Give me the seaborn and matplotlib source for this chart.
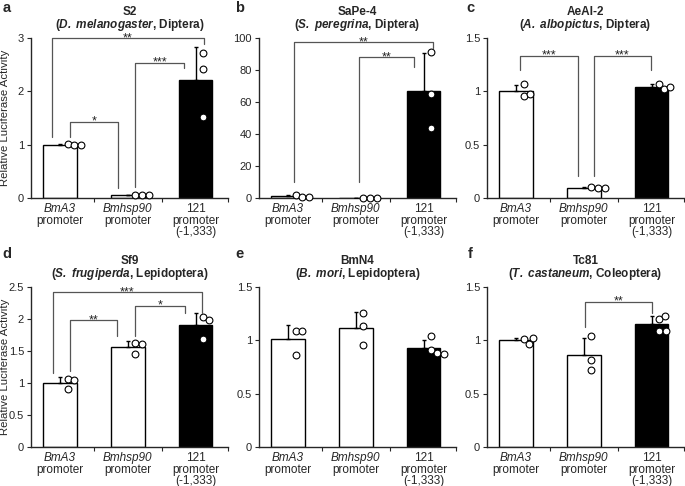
import numpy as np
import pandas as pd
import matplotlib
matplotlib.use("Agg")
import matplotlib.pyplot as plt
from matplotlib.ticker import FixedLocator, FuncFormatter
import seaborn as sns

# categories / labels
groups = ["BmA3", "Bmhsp90", "121"]
label_first = ["BmA3", "Bmhsp90", "121"]
label_first_italic = [True, True, False]
label_rest = ["promoter", "promoter", "promoter\n(-1,333)"]
bar_colors = {"BmA3": "white", "Bmhsp90": "white", "121": "black"}

letters = ["a", "b", "c", "d", "e", "f"]
cell_lines = ["S2", "SaPe-4", "AeAl-2", "Sf9", "BmN4", "Tc81"]
species = ["D. melanogaster", "S. peregrina", "A. albopictus",
           "S. frugiperda", "B. mori", "T. castaneum"]
insect_orders = ["Diptera", "Diptera", "Diptera",
                 "Lepidoptera", "Lepidoptera", "Coleoptera"]

# replicate values per panel: [BmA3, Bmhsp90, 121]
s2_vals = [[1.01, 1.00, 0.99], [0.06, 0.05, 0.06], [2.71, 2.42, 1.51]]
sape_vals = [[2.0, 0.6, 0.5], [0.06, 0.04, 0.05], [91.2, 65.3, 43.9]]
aeal_vals = [[1.067, 0.96, 0.973], [0.104, 0.094, 0.097], [1.067, 1.023, 1.045]]
sf9_vals = [[1.07, 1.05, 0.90], [1.625, 1.61, 1.46], [2.03, 1.99, 1.69]]
bmn4_vals = [[1.086, 1.086, 0.859], [1.254, 1.134, 0.96], [1.04, 0.91, 0.88, 0.87]]
tc81_vals = [[1.01, 0.97, 1.02], [1.04, 0.818, 0.723], [1.2, 1.23, 1.086, 1.086]]
panel_vals = [s2_vals, sape_vals, aeal_vals, sf9_vals, bmn4_vals, tc81_vals]

y_ticks = [[0, 1, 2, 3],
           [0, 20, 40, 60, 80, 100],
           [0, 0.5, 1, 1.5],
           [0, 0.5, 1, 1.5, 2, 2.5],
           [0, 0.5, 1, 1.5],
           [0, 0.5, 1, 1.5]]

# significance brackets: (left x, right x, left foot, top, right foot, label)
brackets = [
    [(0.15, 0.86, 1.15, 1.43, 0.18, "*"),
     (1.11, 1.83, 0.21, 2.54, 2.44, "***"),
     (-0.12, 2.12, 1.15, 3.0, 2.88, "**")],
    [(0.08, 2.14, 10, 97.5, 93.7, "**"),
     (1.04, 1.86, 10, 88, 82, "**")],
    [(0.06, 0.92, 1.2, 1.333, 0.21, "***"),
     (1.15, 1.99, 0.21, 1.333, 1.2, "***")],
    [(-0.11, 2.1, 1.16, 2.42, 2.1, "***"),
     (0.15, 0.84, 1.19, 1.98, 1.74, "**"),
     (1.11, 1.84, 1.74, 2.21, 2.1, "*")],
    [],
    [(1.02, 2.01, 1.127, 1.364, 1.254, "**")],
]

sns.set_theme(style="ticks")
plt.rcParams['font.family'] = ['Liberation Sans', 'DejaVu Sans']
plt.rcParams['mathtext.fontset'] = 'custom'
plt.rcParams['mathtext.rm'] = 'Liberation Sans'
plt.rcParams['mathtext.it'] = 'Liberation Sans:italic'
plt.rcParams['mathtext.bf'] = 'Liberation Sans:bold'
plt.rcParams['mathtext.bfit'] = 'Liberation Sans:bold:italic'

W, H = 685, 486
col_x = [31, 259, 487]
row_top = [38, 287]
ax_w, ax_h = 197, 160
xlim = (-0.43, 2.48)
letter_x = [7, 240, 470]
letter_y = [8, 254]


def dot_positions(vals, center, sx, sy, d=6.5, base=0.11):
    # push overlapping replicates to the right of the bar centre
    placed = []
    for v in vals:
        x = center + base
        while any(((x - px) * sx) ** 2 + ((v - py) * sy) ** 2 < d * d
                  for px, py in placed):
            x += 0.01
        placed.append((x, v))
    return placed


fig = plt.figure(figsize=(6.85, 4.86), dpi=100)

for k in range(6):
    r, c = divmod(k, 3)
    ax = fig.add_axes([col_x[c] / W, (H - row_top[r] - ax_h) / H, ax_w / W, ax_h / H])
    vals = panel_vals[k]
    ylim = (0, y_ticks[k][-1])

    rows = []
    for g, vs in zip(groups, vals):
        for v in vs:
            rows.append({"group": g, "value": v})
    df = pd.DataFrame(rows)
    stats = df.groupby("group", sort=False)["value"].agg(["mean", "std"]).reindex(groups)

    sns.barplot(data=df, x="group", y="value", hue="group", order=groups,
                palette=bar_colors, errorbar=None, width=0.5,
                edgecolor="black", linewidth=1.0, legend=False, ax=ax)
    pos = np.arange(len(groups))
    ax.errorbar(pos, stats["mean"].values,
                yerr=[np.zeros(len(groups)), stats["std"].values],
                fmt="none", ecolor="black", elinewidth=1.0, capsize=1.5,
                capthick=1.0, zorder=3)

    sx = ax_w / (xlim[1] - xlim[0])
    sy = ax_h / (ylim[1] - ylim[0])
    xs, ys = [], []
    for i, vs in enumerate(vals):
        for x, y in dot_positions(vs, i, sx, sy):
            xs.append(x)
            ys.append(y)
    sns.scatterplot(x=xs, y=ys, ax=ax, s=24, color="white", edgecolor="black",
                    linewidth=0.8, zorder=4, clip_on=False)

    for xl, xr, yl, yt, yr, lab in brackets[k]:
        ax.plot([xl, xl, xr, xr], [yl, yt, yt, yr], color="#555555",
                lw=0.9, clip_on=False, zorder=5)
        ax.annotate(lab, ((xl + xr) / 2, yt), xytext=(0, -2.2),
                    textcoords="offset points", ha="center", va="baseline",
                    fontsize=9, color="#222222", annotation_clip=False)

    ax.set_xlim(*xlim)
    ax.set_ylim(*ylim)
    ax.set_xticks(pos)
    ax.set_xticklabels([])
    # category labels: first line (italic gene names) + "promoter" lines
    for i in range(len(groups)):
        ax.annotate(label_first[i], (i, 0), xycoords=("data", "axes fraction"),
                    xytext=(0, -8), textcoords="offset points", ha="center",
                    va="center", fontsize=8.5,
                    style="italic" if label_first_italic[i] else "normal")
        ax.annotate(label_rest[i], (i, 0), xycoords=("data", "axes fraction"),
                    xytext=(0, -12), textcoords="offset points", ha="center",
                    va="top", fontsize=8.5, linespacing=0.95)
    ax.xaxis.set_minor_locator(FixedLocator([0.5, 1.5, xlim[1]]))
    ax.tick_params(axis="x", which="major", length=0)
    ax.tick_params(axis="x", which="minor", length=3, width=0.8, direction="out")
    ax.set_yticks(y_ticks[k])
    ax.yaxis.set_major_formatter(FuncFormatter(lambda v, p: f"{v:g}"))
    ax.tick_params(axis="y", length=3, width=0.8, labelsize=8, pad=2)
    ax.set_xlabel("")
    ax.set_ylabel("")
    for side in ["left", "bottom"]:
        ax.spines[side].set_linewidth(1.0)
    sns.despine(ax=ax)

    sp = r"$\mathbfit{" + species[k].replace(" ", r"\ ") + "}$"
    ax.set_title(cell_lines[k] + "\n(" + sp + ", " + insect_orders[k] + ")",
                 fontsize=8.5, fontweight="bold", pad=7, linespacing=0.95)

    fig.text(letter_x[c] / W, 1 - letter_y[r] / H, letters[k], fontsize=10.5,
             fontweight="bold", ha="center", va="center")

for r in range(2):
    fig.text(5 / W, 1 - (row_top[r] + ax_h / 2) / H, "Relative Luciferase Activity",
             rotation=90, ha="center", va="center", fontsize=8.2)

fig.savefig("out.png", dpi=100)
